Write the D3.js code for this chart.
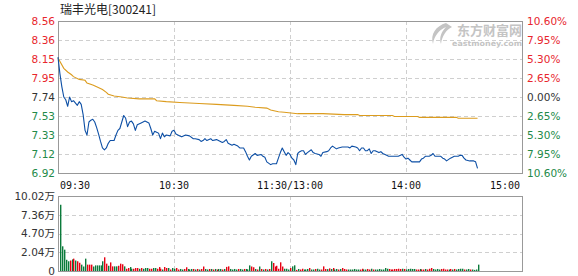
<!DOCTYPE html>
<html>
<head>
<meta charset="utf-8">
<script src="https://cdn.jsdelivr.net/npm/d3@7"></script>
<style>
  body { margin: 0; background: #fff; }
  svg { display: block; }
</style>
</head>
<body>
<svg id="chart" width="578" height="276"></svg>
<script>
// ---- data ----
const title = "瑞丰光电[300241]";
const preClose = 7.74;
const priceTicks = ["8.56", "8.36", "8.15", "7.95", "7.74", "7.53", "7.33", "7.12", "6.92"];
const pctTicks = [10.6, 7.95, 5.3, 2.65, 0, -2.65, -5.3, -7.95, -10.6];
const timeLabels = ["09:30", "10:30", "11:30/13:00", "14:00", "15:00"];
const timeLabelMinutes = [0, 60, 120, 180, 240];
const volTicks = ["0", "2.04万", "4.70万", "7.36万", "10.02万"];
const volMax = 10.02;

// minute index (0 = 9:30, 120 = 11:30/13:00) and price
const priceMinutes = [0,1,2,3,4,5,6,7,8,10,11,12,13,14,15,16,17,18,19,20,21,22,23,24,25,26,27,29,30,31,32,33,34,35,36,37,38,39,40,41,43,45,46,47,48,49,50,51,52,53,54,55,56,58,59,60,61,63,64,66,68,70,71,73,74,75,76,77,79,80,82,83,85,86,87,88,90,91,93,94,96,97,98,99,100,102,103,105,106,107,108,110,111,113,114,115,116,117,118,119,120,121,122,123,124,125,126,127,128,129,131,132,133,135,136,137,139,140,141,142,144,145,147,150,151,152,154,155,156,157,158,159,160,161,162,163,164,166,167,168,170,171,176,178,179,180,181,182,183,187,188,189,190,192,193,194,195,198,199,200,201,203,204,205,207,208,209,210,211,213,215,216,217];
const prices = [8.17,7.99,7.85,7.74,7.71,7.64,7.74,7.69,7.70,7.65,7.69,7.66,7.55,7.38,7.33,7.47,7.49,7.50,7.47,7.41,7.34,7.26,7.19,7.17,7.19,7.24,7.27,7.27,7.33,7.38,7.40,7.47,7.54,7.51,7.42,7.47,7.48,7.45,7.38,7.44,7.46,7.48,7.47,7.46,7.40,7.33,7.37,7.36,7.35,7.29,7.35,7.31,7.33,7.32,7.37,7.38,7.34,7.32,7.31,7.33,7.32,7.29,7.29,7.28,7.26,7.27,7.29,7.27,7.29,7.27,7.28,7.27,7.25,7.26,7.28,7.24,7.22,7.23,7.21,7.19,7.19,7.15,7.10,7.06,7.10,7.13,7.11,7.12,7.10,7.09,7.04,7.01,7.02,7.02,7.08,7.14,7.19,7.15,7.11,7.14,7.12,7.08,7.06,7.01,7.13,7.15,7.16,7.16,7.12,7.14,7.17,7.14,7.13,7.12,7.10,7.14,7.15,7.16,7.19,7.21,7.18,7.19,7.20,7.20,7.19,7.21,7.20,7.19,7.16,7.19,7.19,7.16,7.16,7.18,7.13,7.16,7.16,7.14,7.15,7.13,7.11,7.10,7.10,7.12,7.09,7.07,7.08,7.06,7.04,7.04,7.07,7.08,7.10,7.10,7.11,7.13,7.10,7.10,7.08,7.07,7.05,7.08,7.09,7.10,7.10,7.11,7.11,7.08,7.06,7.05,7.05,7.04,6.97];

const avgMinutes = [0,3,5,7,8,11,14,15,18,20,23,25,26,29,33,36,42,50,51,56,63,73,82,91,98,102,108,110,114,117,124,137,148,155,156,173,174,186,187,206,207,217];
const avgPrices = [8.16,8.05,8.01,7.98,7.96,7.93,7.92,7.89,7.87,7.85,7.82,7.79,7.77,7.75,7.74,7.73,7.72,7.72,7.70,7.69,7.68,7.67,7.66,7.65,7.64,7.63,7.62,7.60,7.58,7.575,7.56,7.56,7.55,7.55,7.54,7.54,7.53,7.53,7.52,7.52,7.51,7.51];

// volume per minute (万手), minute 1..217, with direction r = up, g = down
const volumes = [
  8.85,3.3,2.85,1.5,1.3,1.4,1.55,1.65,1.4,1.3,
  1.1,0.85,0.6,1.65,0.85,0.85,0.85,0.6,0.75,0.75,
  0.75,0.75,1.3,1.83,0.98,0.7,1.15,0.62,0.62,0.62,
  0.7,0.98,0.9,0.62,0.3,0.4,0.53,0.3,0.3,0.4,
  0.4,0.3,0.4,0.3,0.4,0.4,0.3,0.3,0.4,0.4,
  0.3,0.53,0.3,0.2,0.53,0.4,0.4,0.2,0.4,0.3,
  0.4,0.2,0.27,0.2,0.27,0.5,0.27,0.2,0.27,0.27,
  0.2,0.27,0.2,0.27,0.6,0.27,0.2,0.27,0.27,0.2,
  0.27,0.2,0.27,0.27,0.2,0.27,0.55,0.62,0.27,0.2,
  0.27,0.2,0.27,0.27,0.2,0.27,0.27,0.2,0.75,0.6,
  0.5,0.27,0.2,0.6,0.27,0.2,0.27,0.2,0.27,1.3,
  1.07,0.6,0.7,0.3,1.16,0.6,0.3,0.3,0.2,0.4,
  0.62,0.76,0.15,0.27,0.2,0.3,0.2,0.2,0.27,0.4,
  0.2,0.2,0.27,0.3,0.2,0.2,0.62,0.27,0.25,0.35,
  0.27,0.4,0.2,0.27,0.2,0.27,0.4,0.27,0.2,0.2,
  0.2,0.2,0.27,0.2,0.2,0.2,0.3,0.2,0.2,0.27,
  0.2,0.3,0.2,0.2,0.2,0.27,0.2,0.2,0.4,0.3,
  0.27,0.2,0.2,0.27,0.27,0.3,0.27,0.3,0.27,0.2,
  0.27,0.3,0.27,0.27,0.2,0.2,0.27,0.2,0.2,0.27,
  0.2,0.3,0.4,0.27,0.2,0.27,0.2,0.27,0.3,0.2,
  0.2,0.2,0.27,0.2,0.27,0.2,0.27,0.3,0.3,0.2,
  0.2,0.27,0.2,0.2,0.15,0.2,0.85
];
const volDirs = (
  "gggggrgrgr" + "rgggrrrggg" + "gggrrgrrgg" + "rrrgrrggrr" + "rgrgggrrgg" +
  "rrrgrrgrgg" + "rrggrrgggr" + "grgrrggrgr" + "grggrgrrgg" + "ggrggrgggr" +
  "rgrgrgrgrg" + "rrrrrrgggr" + "ggrgrrgggr" + "ggrggrrrgr" + "grggrgrrrg" +
  "gggggrrggr" + "rgrggggggg" + "rrrrrrrgrg" + "ggggrrgrrg" + "rrrggggrrr" +
  "rgrgrggggr" + "ggrgggg"
).split("");

// ---- layout ----
const L = 58, R = 522;
const mainTop = 21, mainBot = 173;
const volTop = 196, volBot = 271;
const red = "#e8262d", green = "#238a49", gray = "#333";

const svg = d3.select("#chart");

const X = d3.scaleLinear().domain([0, 240]).range([L, R]);
const Y = d3.scaleLinear().domain([preClose * 0.894, preClose * 1.106]).range([mainBot, mainTop]);
const YV = d3.scaleLinear().domain([0, volMax]).range([volBot, volTop]);

const crisp = v => Math.round(v) + 0.5;

// title
svg.append("text")
  .attr("x", 60).attr("y", 14)
  .attr("font-family", "Noto Sans CJK SC, sans-serif")
  .attr("font-size", 12).attr("fill", "#222")
  .text(title);

// watermark
const wm = svg.append("g").attr("fill", "#c4c4c4");
wm.append("path")
  .attr("d", "M446,23 C436,26 430,34 433,44 C434,36 439,30 446,27 C441,32 439,38 441,44 C442,36 446,30 452,27 Z");
wm.append("text")
  .attr("x", 522).attr("y", 35).attr("text-anchor", "end")
  .attr("font-family", "Noto Sans CJK SC, sans-serif")
  .attr("font-weight", "bold").attr("font-size", 13)
  .text("东方财富网");
wm.append("text")
  .attr("x", 522).attr("y", 46).attr("text-anchor", "end")
  .attr("font-family", "DejaVu Sans, sans-serif")
  .attr("font-weight", "bold").attr("font-size", 7.5)
  .attr("textLength", 70).attr("lengthAdjust", "spacingAndGlyphs")
  .text("eastmoney.com");

// grids
const grid = svg.append("g")
  .attr("stroke", "#cfcfcf").attr("stroke-dasharray", "4,3").attr("stroke-width", 1);
pctTicks.slice(1, -1).forEach(p => {
  const yy = crisp(Y(preClose * (1 + p / 100)));
  grid.append("line").attr("x1", L).attr("x2", R).attr("y1", yy).attr("y2", yy);
});
[1, 2, 3].forEach(i => {
  const yy = crisp(YV(volMax * i / 4));
  grid.append("line").attr("x1", L).attr("x2", R).attr("y1", yy).attr("y2", yy);
});
timeLabelMinutes.slice(1, -1).forEach(m => {
  const xx = crisp(X(m));
  grid.append("line").attr("x1", xx).attr("x2", xx).attr("y1", mainTop).attr("y2", mainBot);
  grid.append("line").attr("x1", xx).attr("x2", xx).attr("y1", volTop).attr("y2", volBot);
});

// frames
[[mainTop, mainBot], [volTop, volBot]].forEach(([t, b]) => {
  svg.append("rect")
    .attr("x", L + 0.5).attr("y", t + 0.5)
    .attr("width", R - L).attr("height", b - t)
    .attr("fill", "none").attr("stroke", "#999");
});

// price labels
const labelFont = "DejaVu Sans, sans-serif";
const tickColor = i => i < 4 ? red : i === 4 ? gray : green;
svg.append("g").selectAll("text")
  .data(priceTicks)
  .join("text")
  .attr("x", L - 3)
  .attr("y", (d, i) => Y(preClose * (1 + pctTicks[i] / 100)))
  .attr("dy", "0.36em")
  .attr("text-anchor", "end")
  .attr("font-family", labelFont).attr("font-size", 10.5)
  .attr("fill", (d, i) => tickColor(i))
  .text(d => d);

svg.append("g").selectAll("text")
  .data(pctTicks)
  .join("text")
  .attr("x", R + 5)
  .attr("y", d => Y(preClose * (1 + d / 100)))
  .attr("dy", "0.36em")
  .attr("font-family", labelFont).attr("font-size", 10.5)
  .attr("fill", (d, i) => tickColor(i))
  .text(d => Math.abs(d).toFixed(2) + "%");

// time labels
svg.append("g").selectAll("text")
  .data(timeLabels)
  .join("text")
  .attr("x", (d, i) => X(timeLabelMinutes[i]) + (i === 0 ? 2 : i === 4 ? -2 : 0))
  .attr("y", 189)
  .attr("text-anchor", (d, i) => i === 0 ? "start" : i === 4 ? "end" : "middle")
  .attr("font-family", "DejaVu Sans Mono, monospace").attr("font-size", 10)
  .attr("fill", "#111")
  .text(d => d);

// volume labels
svg.append("g").selectAll("text")
  .data(volTicks)
  .join("text")
  .attr("x", L - 3)
  .attr("y", (d, i) => YV(volMax * i / 4))
  .attr("dy", "0.36em")
  .attr("text-anchor", "end")
  .attr("font-family", labelFont + ", Noto Sans CJK SC").attr("font-size", 10.5)
  .attr("fill", gray)
  .text(d => d);

// average price line
const line = d3.line().x(d => X(d[0])).y(d => Y(d[1]));
svg.append("path")
  .datum(avgMinutes.map((m, i) => [m, avgPrices[i]]))
  .attr("d", line)
  .attr("fill", "none").attr("stroke", "#dc9c1e").attr("stroke-width", 1.1);

// price line
svg.append("path")
  .datum(priceMinutes.map((m, i) => [m, prices[i]]))
  .attr("d", line)
  .attr("fill", "none").attr("stroke", "#0d4fa5").attr("stroke-width", 1.1)
  .attr("stroke-linejoin", "round");

// volume bars
svg.append("g").selectAll("rect")
  .data(volumes)
  .join("rect")
  .attr("x", (d, i) => Math.round(X(i + 1)))
  .attr("y", d => YV(d))
  .attr("width", 1.4)
  .attr("height", d => volBot - YV(d))
  .attr("fill", (d, i) => volDirs[i] === "r" ? "#e60012" : "#0b7a3b");
</script>
</body>
</html>
